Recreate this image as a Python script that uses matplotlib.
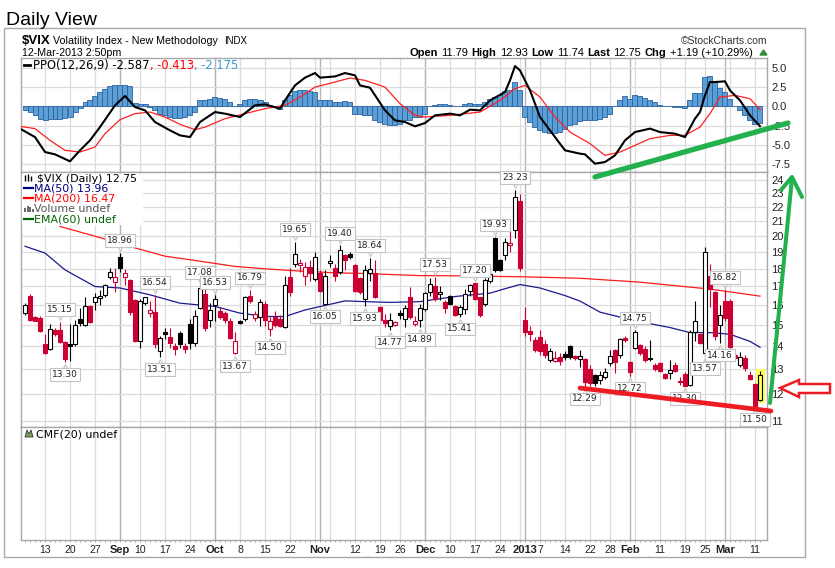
import numpy as np
import pandas as pd
import matplotlib
matplotlib.use("Agg")
import matplotlib.pyplot as plt
import matplotlib.transforms as mtrans
from matplotlib.patches import Rectangle, Polygon
from matplotlib.ticker import FixedLocator, NullLocator, NullFormatter

# trading days shown (Aug 7 2012 .. Mar 12 2013)
holidays = ['2012-09-03', '2012-10-29', '2012-10-30', '2012-11-22',
            '2012-12-25', '2013-01-01', '2013-01-21', '2013-02-18']
days = pd.bdate_range('2012-08-07', '2013-03-12')
days = days[~days.isin(pd.to_datetime(holidays))]

opens = [15.6, 16.5, 15.4, 15.35, 14.1, 13.9, 14.75, 14.75, 14.2, 14.1,
         14.1, 15.3, 15.0, 15.95, 16.15, 16.35, 16.55, 17.5, 17.25, 18.7,
         17.5, 17.35, 16.25, 14.25, 16.1, 15.6, 15.65, 13.8, 14.65, 14.45,
         14.0, 14.6, 14.0, 15.05, 14.15, 15.85, 16.6, 15.25, 16.0, 15.7,
         15.6, 15.2, 13.7, 15.2, 15.3, 16.5, 15.35, 15.4, 16.05, 14.8,
         15.4, 15.3, 14.9, 17.5, 18.25, 18.2, 17.6, 18.1, 17.4, 17.75,
         16.05, 18.35, 18.05, 17.8, 18.8, 18.9, 18.2, 17.45, 16.3, 17.75,
         17.75, 15.9, 15.25, 14.95, 15.0, 15.6, 15.3, 16.4, 15.05, 15.25,
         15.8, 16.7, 17.0, 16.6, 16.15, 16.5, 15.95, 15.55, 15.8, 16.75,
         17.2, 16.4, 16.05, 17.3, 19.9, 18.5, 18.8, 19.45, 20.4, 22.4,
         15.25, 14.7, 14.3, 14.45, 14.1, 13.4, 13.35, 13.55, 13.65, 14.0,
         13.55, 13.45, 13.45, 13.0, 12.75, 12.55, 12.7, 13.25, 13.85, 13.6,
         14.4, 13.3, 13.95, 14.05, 13.9, 13.45, 13.2, 13.25, 12.8, 12.85,
         13.2, 12.5, 12.8, 12.35, 14.65, 14.55, 13.7, 17.6, 16.7, 15.0,
         16.2, 16.2, 13.6, 13.2, 13.5, 12.75, 12.4, 11.79]
highs = [16.1, 16.6, 15.45, 15.45, 14.55, 15.05, 14.85, 15.15, 14.25, 15.05,
         15.25, 15.85, 16.45, 16.0, 16.65, 16.8, 17.15, 18.05, 18.05, 18.96,
         18.0, 17.4, 16.3, 16.3, 16.45, 16.2, 16.54, 14.5, 14.85, 14.85,
         14.15, 14.7, 14.15, 15.3, 15.75, 17.08, 17.0, 16.1, 16.53, 15.9,
         15.7, 15.35, 14.65, 15.25, 16.5, 16.79, 15.7, 16.3, 16.2, 15.4,
         15.7, 15.5, 17.6, 18.05, 19.65, 18.6, 18.4, 18.5, 19.0, 17.9,
         17.9, 18.8, 18.3, 19.40, 18.9, 19.0, 18.3, 17.5, 18.2, 18.64,
         18.5, 15.95, 15.55, 15.6, 15.2, 15.75, 16.0, 16.95, 15.45, 16.05,
         16.7, 17.45, 17.53, 17.0, 16.25, 16.55, 16.0, 16.0, 16.85, 17.15,
         17.20, 16.45, 17.45, 18.2, 19.93, 18.6, 19.9, 20.4, 23.23, 22.9,
         15.9, 14.95, 14.45, 14.75, 14.3, 13.95, 13.8, 13.7, 13.8, 14.05,
         13.6, 13.85, 13.5, 13.2, 12.8, 12.95, 13.05, 13.85, 13.9, 14.4,
         14.5, 13.35, 14.75, 14.1, 14.0, 14.3, 13.25, 13.3, 12.85, 13.4,
         13.3, 12.7, 12.9, 14.75, 16.2, 14.6, 19.3, 18.3, 16.75, 16.0,
         16.82, 16.3, 13.75, 13.75, 13.6, 12.95, 12.45, 12.93]
lows = [15.5, 15.2, 15.2, 14.65, 13.65, 13.85, 14.5, 14.15, 13.30, 13.35,
        14.0, 14.95, 14.95, 15.1, 15.75, 16.0, 16.4, 17.4, 16.7, 17.8,
        17.1, 15.5, 14.2, 13.95, 16.0, 15.4, 13.95, 13.51, 14.35, 13.95,
        13.6, 13.95, 13.7, 13.9, 14.0, 15.8, 14.7, 14.9, 15.2, 15.3,
        15.1, 14.35, 13.67, 15.05, 15.2, 16.1, 15.2, 14.95, 14.95, 14.50,
        14.9, 14.9, 14.85, 16.5, 18.1, 17.8, 17.1, 17.3, 17.3, 16.7,
        16.05, 18.1, 17.3, 17.7, 17.9, 18.6, 16.7, 16.6, 15.93, 17.3,
        16.35, 15.15, 14.9, 14.77, 14.95, 15.3, 14.9, 15.3, 14.95, 14.89,
        15.7, 16.5, 16.2, 16.25, 15.6, 16.0, 15.45, 15.41, 15.55, 16.5,
        16.25, 15.4, 15.95, 17.2, 17.8, 17.85, 18.5, 19.0, 19.9, 17.85,
        14.5, 14.25, 13.75, 13.6, 13.5, 13.3, 13.3, 13.2, 13.4, 13.45,
        13.4, 13.1, 12.29, 12.3, 12.3, 12.4, 12.6, 13.15, 12.85, 13.5,
        14.2, 12.72, 13.9, 13.6, 13.3, 13.35, 12.95, 12.9, 12.6, 12.6,
        12.9, 12.35, 12.30, 12.3, 14.25, 14.1, 13.57, 15.9, 14.3, 14.16,
        15.2, 13.95, 13.4, 13.1, 12.95, 12.55, 11.50, 11.74]
closes = [16.0, 15.25, 15.22, 14.7, 13.7, 14.8, 14.55, 14.2, 13.45, 14.0,
          15.0, 15.1, 15.95, 15.15, 16.4, 16.5, 17.05, 17.8, 17.5, 18.05,
          17.75, 15.65, 14.25, 16.2, 16.4, 15.75, 14.1, 14.4, 14.55, 14.15,
          13.9, 14.1, 13.9, 14.15, 15.45, 16.9, 14.85, 15.75, 16.3, 15.4,
          15.25, 14.4, 14.25, 15.1, 16.4, 16.2, 15.55, 16.15, 15.25, 15.2,
          15.0, 14.95, 17.1, 16.7, 18.9, 18.35, 18.1, 17.75, 18.7, 16.75,
          17.6, 18.45, 17.6, 19.1, 18.5, 18.7, 16.75, 16.7, 17.95, 18.0,
          16.4, 15.25, 15.1, 15.25, 15.15, 15.5, 15.85, 15.4, 15.2, 15.85,
          16.65, 17.15, 16.3, 16.7, 15.85, 16.05, 15.5, 15.9, 16.6, 17.05,
          16.3, 15.5, 17.35, 17.7, 17.9, 17.95, 19.6, 19.55, 22.72, 18.02,
          14.68, 14.56, 13.83, 13.79, 13.62, 13.81, 13.49, 13.36, 13.52, 13.55,
          13.5, 13.58, 12.46, 12.43, 12.45, 12.75, 12.89, 13.57, 13.31, 14.32,
          14.28, 12.9, 14.67, 13.72, 13.41, 13.5, 13.02, 12.94, 12.64, 12.98,
          12.95, 12.46, 12.31, 14.68, 15.22, 14.17, 18.99, 16.87, 14.5, 15.51,
          15.36, 13.98, 13.48, 13.53, 13.06, 12.59, 11.56, 12.75]

# moving averages (day index, value)
ma50_idx = [0, 4, 8, 14, 19, 25, 31, 38, 43, 48, 52, 56, 62, 64, 68, 73, 79,
            86, 93, 96, 99, 103, 108, 111, 115, 122, 129, 133, 137, 141, 145, 147]
ma50_val = [19.35, 18.93, 17.93, 16.99, 16.91, 16.54, 16.10, 15.93, 15.59, 15.42,
            15.42, 15.75, 16.10, 16.22, 16.18, 16.14, 16.18, 16.45, 16.63, 16.87,
            17.10, 16.91, 16.50, 16.21, 15.64, 15.21, 14.88, 14.64, 14.64, 14.56,
            14.23, 13.96]
ma200_idx = [7, 15, 22, 28, 35, 42, 48, 55, 62, 68, 79, 86, 100, 111, 123, 137, 147]
ma200_val = [20.63, 19.90, 19.25, 18.74, 18.44, 18.13, 17.99, 17.86, 17.76, 17.72,
             17.60, 17.59, 17.53, 17.45, 17.23, 16.85, 16.47]

# PPO(12,26,9)
ppo_idx = [-1, 2, 4, 6, 9, 11, 13, 15, 18, 20, 22, 24, 26, 29, 31, 33, 35, 38,
           40, 43, 46, 48, 51, 52, 54, 56, 58, 59, 62, 64, 66, 67, 69, 72, 74,
           76, 78, 80, 82, 85, 87, 89, 91, 93, 96, 97, 98, 99, 101, 103, 106,
           108, 111, 112, 114, 116, 118, 120, 122, 125, 127, 130, 132, 134,
           135, 136, 137, 138, 140, 141, 143, 145, 147]
ppo_val = [-2.9, -4.0, -5.95, -6.25, -7.16, -5.73, -4.43, -2.7, 0.13, 1.35,
           -0.09, -0.52, -2.04, -3.13, -3.78, -4.0, -2.04, -0.74, -0.95, -1.39,
           0.13, 0.26, -0.3, 0.78, 2.73, 3.74, 4.34, 3.74, 3.9, 4.34, 4.04, 2.73,
           2.43, -0.52, -1.82, -2.04, -2.6, -2.17, -1.17, -0.95, -1.17, -0.43,
           -0.52, 0.78, 1.86, 3.39, 5.25, 4.69, 2.08, -1.39, -4.0, -5.73, -6.16,
           -6.25, -7.47, -7.25, -6.38, -4.43, -3.35, -2.9, -3.35, -3.56, -4.0,
           -1.6, -0.74, 1.43, 3.17, 3.17, 3.26, 2.08, 0.78, -1.17, -2.587]
sig_idx = [-1, 2, 5, 8, 11, 14, 16, 19, 22, 25, 28, 31, 34, 36, 40, 44, 48, 52,
           55, 58, 62, 65, 68, 72, 75, 78, 80, 85, 91, 95, 98, 100, 103, 106,
           109, 113, 116, 119, 122, 125, 129, 132, 135, 137, 139, 142, 145, 147]
sig_val = [-2.6, -2.9, -4.43, -5.73, -5.95, -5.3, -3.56, -1.73, -0.95, -0.74,
           -1.39, -2.34, -3.04, -2.7, -1.6, -0.95, -0.3, 0.13, 1.21, 2.51, 3.17,
           3.69, 3.39, 2.51, 0.35, -1.17, -1.39, -1.17, -0.74, 0.78, 2.3, 2.73,
           1.21, -1.39, -3.35, -4.86, -6.38, -5.95, -5.08, -4.2, -3.78, -3.78,
           -2.7, -0.95, 1.21, 1.43, 1.0, -0.413]
hist = [-0.52, -0.74, -1.17, -1.6, -1.83, -1.6, -1.6, -1.6, -1.48, -1.39,
        -0.74, -0.17, 0.56, 0.78, 1.3, 1.87, 2.3, 2.6, 2.73, 2.73,
        2.82, 2.6, 0.43, 0.35, 0.35, -0.09, -0.52, -0.95, -1.17, -1.39,
        -1.48, -1.48, -1.39, -1.17, -0.74, 0.78, 0.78, 1.0, 1.22, 1.13,
        1.0, 0.56, 0.0, 0.35, 0.78, 0.91, 0.91, 0.87, 0.56, 0.13,
        -0.09, -0.3, 0.78, 1.43, 2.0, 2.08, 2.08, 2.0, 1.87, 0.87,
        0.78, 0.78, 0.56, 0.56, 0.65, 0.56, -0.95, -0.95, -1.17, -1.17,
        -1.83, -2.04, -2.35, -2.48, -2.48, -2.35, -1.83, -1.83, -1.4, -1.39,
        -0.95, 0.0, 0.22, 0.30, 0.26, 0.13, 0.0, 0.09, 0.26, 0.43,
        0.35, 0.26, 0.56, 1.0, 1.22, 1.43, 2.0, 2.08, 3.17, 2.08,
        -1.39, -2.04, -2.69, -3.13, -3.34, -3.47, -3.47, -3.34, -2.91, -2.47,
        -2.26, -1.91, -1.82, -1.74, -1.74, -1.61, -1.39, -0.95, 0.0, 0.78,
        1.35, 1.0, 1.43, 1.3, 1.09, 0.87, 0.56, 0.13, 0.04, 0.0,
        -0.09, -0.09, -0.17, 0.87, 1.74, 1.74, 3.82, 3.91, 3.17, 2.43,
        1.87, 1.0, 0.0, -0.52, -1.17, -1.74, -2.35, -2.175]

# high/low callouts: day index and which end
label_idx = [7, 8, 19, 26, 27, 35, 38, 42, 45, 49, 54, 60, 63, 68, 69, 73, 79,
             82, 87, 90, 94, 98, 112, 121, 122, 132, 136, 139, 140, 146]
label_side = ['h', 'l', 'h', 'h', 'l', 'h', 'h', 'l', 'h', 'l', 'h', 'l', 'h',
              'l', 'h', 'l', 'l', 'h', 'l', 'h', 'h', 'h', 'l', 'l', 'h', 'l',
              'l', 'l', 'h', 'l']

tick_dates = ['2012-08-13', '2012-08-20', '2012-08-27', '2012-09-04', '2012-09-10',
              '2012-09-17', '2012-09-24', '2012-10-01', '2012-10-08', '2012-10-15',
              '2012-10-22', '2012-11-01', '2012-11-12', '2012-11-19', '2012-11-26',
              '2012-12-03', '2012-12-10', '2012-12-17', '2012-12-24', '2013-01-02',
              '2013-01-07', '2013-01-14', '2013-01-22', '2013-01-28', '2013-02-01',
              '2013-02-11', '2013-02-19', '2013-02-25', '2013-03-01', '2013-03-11']
tick_labels = ['13', '20', '27', 'Sep', '10', '17', '24', 'Oct', '8', '15', '22',
               'Nov', '12', '19', '26', 'Dec', '10', '17', '24', '2013', '7', '14',
               '22', '28', 'Feb', '11', '19', '25', 'Mar', '11']
bold_labels = ['Sep', 'Oct', 'Nov', 'Dec', '2013', 'Feb', 'Mar']

price_ticks = list(range(11, 25))
ppo_ticks = [5.0, 2.5, 0.0, -2.5, -5.0, -7.5]

W, H = 835, 568
RED = '#cc0033'
fig = plt.figure(figsize=(W / 100, H / 100), dpi=100)
fig.patch.set_facecolor('white')


def box(top, bottom):
    return [21 / W, 1 - bottom / H, 746 / W, (bottom - top) / H]


ax_ppo = fig.add_axes(box(58, 172))
ax_px = fig.add_axes(box(172, 427))
ax_cmf = fig.add_axes(box(427, 540))

x = np.arange(len(days))
xlim = (-0.8, 148.4)

# week / month separators
week_start = [k for k in range(1, len(days))
              if days[k].isocalendar()[1] != days[k - 1].isocalendar()[1]]
month_start = [k for k in range(1, len(days)) if days[k].month != days[k - 1].month]

for ax in (ax_ppo, ax_px, ax_cmf):
    ax.set_xlim(*xlim)
    for k in week_start:
        ax.axvline(k, color='#dcdcdc', lw=0.9, zorder=0)
    for k in month_start:
        ax.axvline(k, color='#b4b4b4', lw=1.0, zorder=0)
    for s in ax.spines.values():
        s.set_color('#a8a8a8')
        s.set_linewidth(1.0)
    ax.tick_params(axis='x', labelbottom=False, length=0)
    ax.yaxis.tick_right()
    ax.tick_params(axis='y', length=0, pad=3, labelsize=8, labelcolor='#222222')

# ---- PPO panel
ax_ppo.set_ylim(-8.55, 6.3)
ax_ppo.set_yticks(ppo_ticks)
ax_ppo.set_yticklabels(['%.1f' % v for v in ppo_ticks], family='Liberation Sans')
for v in ppo_ticks:
    ax_ppo.axhline(v, color='#dcdcdc', lw=0.9, zorder=0)
ax_ppo.bar(x, hist, width=1.0, color='#5b9fd6', edgecolor='#2b62a0', lw=0.6, zorder=2)
ax_ppo.plot(sig_idx, sig_val, color='#ff2020', lw=0.9, zorder=3)
ax_ppo.plot(ppo_idx, ppo_val, color='black', lw=1.5, zorder=4)

# ---- price panel
ax_px.set_yscale('log')
ax_px.set_ylim(10.79, 24.6)
ax_px.yaxis.set_major_locator(FixedLocator(price_ticks))
ax_px.yaxis.set_minor_locator(NullLocator())
ax_px.yaxis.set_minor_formatter(NullFormatter())
ax_px.set_yticklabels([str(v) for v in price_ticks], family='Liberation Sans')
for v in price_ticks:
    ax_px.axhline(v, color='#dcdcdc', lw=0.9, zorder=0)

ax_px.plot(ma200_idx, ma200_val, color='#ff1a1a', lw=0.9, zorder=2)
ax_px.plot(ma50_idx, ma50_val, color='#1a1a8c', lw=0.9, zorder=2)

o, h, l, c = map(np.array, (opens, highs, lows, closes))
prev = np.r_[c[0], c[:-1]]
edge = np.where(c < prev, RED, 'black')
face = np.where(c < o, edge, 'white').astype(object)
face[-1] = '#ffff66'
ax_px.add_patch(Rectangle((x[-1] - 0.75, l[-1] * 0.995), 1.5, h[-1] * 1.005 - l[-1] * 0.995,
                          color='#ffff66', zorder=2))
ax_px.vlines(x, l, h, colors=edge, lw=0.8, zorder=3)
lo = np.minimum(o, c)
hi = np.maximum(np.maximum(o, c), lo * 1.004)
ax_px.bar(x, hi - lo, bottom=lo, width=0.8, color=list(face), edgecolor=list(edge),
          lw=0.8, zorder=4)

for k, side in zip(label_idx, label_side):
    val = highs[k] if side == 'h' else lows[k]
    sign = 1 if side == 'h' else -1
    # little notch pointing at the candle
    tr = mtrans.offset_copy(ax_px.transData, fig=fig, x=0, y=sign * 3.6, units='points')
    ax_px.plot([k], [val], marker='v' if side == 'h' else '^', ms=4.2, mfc='white',
               mec='#c4c4c4', mew=0.8, transform=tr, zorder=5)
    ax_px.annotate('%.2f' % val, xy=(k, val), xytext=(0, sign * 8.8),
                   textcoords='offset points', ha='center', va='center',
                   fontsize=6.5, color='#222222',
                   bbox=dict(boxstyle='square,pad=0.2', fc='white', ec='#c4c4c4', lw=0.8),
                   zorder=6)

# ---- CMF panel (empty) with date axis
ax_cmf.set_ylim(0, 1)
ax_cmf.set_yticks([])
ax_cmf.set_xticks([days.get_loc(pd.Timestamp(d)) for d in tick_dates])
ax_cmf.set_xticks(x, minor=True)
ax_cmf.tick_params(axis='x', which='both', labelbottom=True, length=1.5, width=0.6,
                   color='#999999', pad=2)
ax_cmf.set_xticklabels(tick_labels, fontsize=7.5, family='Liberation Sans', color='#222222')
for t in ax_cmf.get_xticklabels():
    if t.get_text() in bold_labels:
        t.set_fontweight('bold')
        t.set_fontsize(8)

# ---- overlay in pixel space for headers and hand-drawn markup
ov = fig.add_axes([0, 0, 1, 1], zorder=10)
ov.set_xlim(0, W)
ov.set_ylim(H, 0)
ov.axis('off')
ov.patch.set_alpha(0)

ov.add_patch(Rectangle((4, 28), 801, 529, fill=False, ec='#a8a8a8', lw=1.0))
ov.text(6, 25, 'Daily View', fontsize=14, family='Liberation Sans', va='baseline')


def chain(x0, y0, parts, size, family='Liberation Sans', gap=2.5):
    t = ov.text(x0, y0, parts[0][0], color=parts[0][1], fontweight=parts[0][2],
                fontsize=size, family=family, va='baseline', ha='left')
    for s, col, wt in parts[1:]:
        t = ov.annotate(s, xy=(1, 0), xycoords=t, xytext=(gap, 0),
                        textcoords='offset points', va='bottom', ha='left',
                        color=col, fontweight=wt, fontsize=size, family=family)
    return t


chain(22, 44, [('$VIX', 'black', 'bold')], 9.5)
ov.text(53, 44, 'Volatility Index - New Methodology', fontsize=7.7,
        family='Liberation Sans', va='baseline')
ov.text(224, 44, 'INDX', fontsize=7, family='Liberation Sans', va='baseline')
ov.text(22, 56, '12-Mar-2013 2:50pm', fontsize=7.7, family='Liberation Sans', va='baseline')
ov.text(767, 44, '\u00a9StockCharts.com', fontsize=7.5, family='Liberation Sans',
        va='baseline', ha='right', color='#333333')
chain(409, 56, [('Open', 'black', 'bold'), ('11.79', 'black', 'normal'),
                ('High', 'black', 'bold'), ('12.93', 'black', 'normal'),
                ('Low', 'black', 'bold'), ('11.74', 'black', 'normal'),
                ('Last', 'black', 'bold'), ('12.75', 'black', 'normal'),
                ('Chg', 'black', 'bold'), ('+1.19 (+10.29%)', 'black', 'normal')], 8)
ov.add_patch(Polygon([[760, 55], [767, 55], [763.5, 50]], color='#2e8b3a'))

# PPO legend
ov.plot([24, 30], [65, 65], color='black', lw=2)
chain(33, 68.5, [('PPO(12,26,9) -2.587', 'black', 'normal'), (', -0.413', 'red', 'normal'),
                 (', -2.175', '#3399cc', 'normal')], 8.3, family='DejaVu Sans', gap=0)

# price legend
ov.add_patch(Rectangle((22, 174), 120, 50, color='white', zorder=1))
ov.text(37, 181.5, '$VIX (Daily) 12.75', fontsize=7.9, family='DejaVu Sans', va='baseline')
ov.vlines([25, 28, 31], [175, 174, 176], [181, 181, 181], color='black', lw=1)
leg = [('MA(50) 13.96', '#000080', 191.5), ('MA(200) 16.47', '#ff0000', 201.5),
       ('EMA(60) undef', '#006400', 222.5)]
for s, col, yy in leg:
    ov.plot([24, 33], [yy - 3.5, yy - 3.5], color=col, lw=1.6)
    ov.text(34, yy, s, fontsize=7.9, family='DejaVu Sans', color=col, va='baseline')
ov.vlines([25, 27.5, 30, 32.5], [208, 206, 207, 209], [212, 212, 212, 212],
          color='#666666', lw=1.4)
ov.text(34, 212, 'Volume undef', fontsize=7.9, family='DejaVu Sans', color='#555555',
        va='baseline')

# CMF legend
ov.add_patch(Polygon([[25, 437], [27, 430], [29, 434], [31, 430], [33, 437]],
                     fc='#7aa05a', ec='#333333', lw=0.6))
ov.text(36, 437.5, 'CMF(20) undef', fontsize=7.9, family='DejaVu Sans', va='baseline')

# hand-drawn markup
GREEN = '#22b14c'
MRED = '#ed1c24'
ov.plot([595, 788], [177, 123], color=GREEN, lw=3.8, solid_capstyle='round')
ov.plot([770, 792], [403, 178], color=GREEN, lw=2.9, solid_capstyle='round')
ov.plot([781, 792, 802], [190, 177, 197], color=GREEN, lw=2.9, solid_capstyle='round')
ov.plot([580, 771], [388, 411], color=MRED, lw=3.4, solid_capstyle='round')
ov.add_patch(Polygon([[780, 388], [799, 380], [799, 384], [830, 384], [830, 393],
                      [799, 393], [799, 397]], fc='white', ec=MRED, lw=1.8))

fig.savefig('out.png', dpi=100, facecolor='white')
